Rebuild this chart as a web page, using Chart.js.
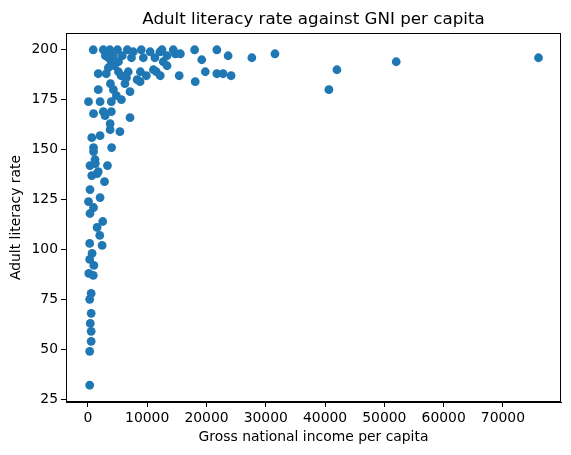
<!DOCTYPE html>
<html>
<head>
<meta charset="utf-8">
<script src="https://cdn.jsdelivr.net/npm/chart.js@4.4.1/dist/chart.umd.min.js"></script>
<style>
  html, body { margin: 0; padding: 0; background: #fff; }
  #wrap { width: 571px; height: 455px; }
</style>
</head>
<body>
<div id="wrap"><canvas id="scatter" width="571" height="455"></canvas></div>
<script>
// ---- data ----
const gniPerCapita = [
  900, 2600, 3700, 5000, 6650, 7650, 9000, 10500, 12150, 12500, 14400, 14750, 15600, 13350, 18000, 19200,
  21750, 23650, 27650, 31550, 40650, 42000, 52000, 76000,
  4300, 3950, 3450, 7350, 9350, 11300, 12700, 1750, 3100, 5150, 6800, 8850, 9850, 11550, 12200,
  3800, 6250, 8800, 1750, 4300, 7100, 100, 2050, 3950, 5650, 4800, 950, 2600, 3950, 7100,
  11050, 13350, 15400, 18100, 19800, 21750, 22800, 24150,
  2900, 3750, 3750, 5400, 650, 2050, 4000, 950, 950, 1200, 350, 1750, 650, 3300, 2800, 350, 2050, 100,
  950, 350, 2500, 1250, 1550, 1550, 2000, 300, 2400, 700, 300, 1000, 150, 900, 550, 300, 550, 400,
  550, 550, 300, 300,
  2950, 5150, 4450, 5800, 3450, 5600, 6500, 8300
];
const literacyRate = [
  200, 200, 200, 200, 200, 199, 200, 199, 199, 200, 200, 198, 198, 197, 200, 195,
  200, 197, 196, 198, 180, 190, 194, 196,
  197, 194, 191, 196, 196, 196, 194, 188, 188, 189, 189, 189, 187, 189, 187,
  183, 183, 184, 180, 180, 179, 174, 174, 174, 175, 177, 168, 169, 169, 166,
  190, 192, 187, 184, 189, 188, 188, 187,
  167, 163, 160, 159, 156, 157, 151, 151, 149, 145, 142, 139, 137, 142, 134, 130, 126, 124,
  121, 118, 114, 143, 138, 111, 107, 103, 102, 98, 95, 92, 88, 87, 78, 75, 68, 63,
  59, 54, 49, 32,
  197, 194, 192, 197, 196, 187, 186, 185
];
const xTicks = [0, 10000, 20000, 30000, 40000, 50000, 60000, 70000];
const yTicks = [25, 50, 75, 100, 125, 150, 175, 200];

const chartTitle = "Adult literacy rate against GNI per capita";
const xTitle = "Gross national income per capita";
const yTitle = "Adult literacy rate";

const FONT = "'DejaVu Sans', sans-serif";

// matplotlib style axes limits: 5% margins around the data
const pad = (lo, hi) => [lo - (hi - lo) * 0.05, hi + (hi - lo) * 0.05];
const [xMin, xMax] = pad(Math.min(...gniPerCapita), Math.max(...gniPerCapita));
const [yMin, yMax] = pad(Math.min(...literacyRate), Math.max(...literacyRate));

const points = gniPerCapita.map((x, i) => ({ x, y: literacyRate[i] }));

// frame + titles drawn as text on the canvas
const frameAndTitles = {
  id: "frameAndTitles",
  afterDraw(chart) {
    const { ctx, chartArea: a } = chart;
    ctx.save();
    ctx.strokeStyle = "#000";
    ctx.lineWidth = 1;
    ctx.strokeRect(a.left + 0.5, a.top + 0.5, a.right - a.left - 1, a.bottom - a.top - 1);

    ctx.fillStyle = "#000";
    ctx.textAlign = "center";
    ctx.textBaseline = "alphabetic";
    ctx.font = "16.7px " + FONT;
    ctx.fillText(chartTitle, (a.left + a.right) / 2, 24);

    ctx.font = "13.9px " + FONT;
    ctx.textBaseline = "middle";
    ctx.fillText(xTitle, (a.left + a.right) / 2, 437);

    ctx.translate(16, (a.top + a.bottom) / 2);
    ctx.rotate(-Math.PI / 2);
    ctx.fillText(yTitle, 0, 0);
    ctx.restore();
  }
};

const axisCommon = {
  grid: { display: true, drawOnChartArea: false, drawTicks: true, tickLength: 5, tickColor: "#000", tickWidth: 1 },
  border: { display: true, color: "#000", width: 1 },
  ticks: { color: "#000", font: { family: FONT, size: 13.9 }, padding: 3, autoSkip: false, maxRotation: 0 }
};

new Chart(document.getElementById("scatter"), {
  type: "scatter",
  data: {
    datasets: [{
      data: points,
      backgroundColor: "#1f77b4",
      borderWidth: 0,
      pointRadius: 4.4,
      pointHoverRadius: 4.4
    }]
  },
  options: {
    responsive: false,
    devicePixelRatio: 1,
    animation: false,
    events: [],
    layout: { padding: { top: 33, right: 10, left: 0, bottom: 0 } },
    plugins: { legend: { display: false }, title: { display: false }, tooltip: { enabled: false } },
    scales: {
      x: {
        ...axisCommon,
        type: "linear",
        min: xMin,
        max: xMax,
        afterBuildTicks: s => { s.ticks = xTicks.map(v => ({ value: v })); },
        afterFit: s => { s.height = 53; },
        ticks: { ...axisCommon.ticks, callback: v => String(v) }
      },
      y: {
        ...axisCommon,
        type: "linear",
        min: yMin,
        max: yMax,
        afterBuildTicks: s => { s.ticks = yTicks.map(v => ({ value: v })); },
        afterFit: s => { s.width = 66; },
        ticks: { ...axisCommon.ticks, callback: v => String(v) }
      }
    }
  },
  plugins: [frameAndTitles]
});
</script>
</body>
</html>
